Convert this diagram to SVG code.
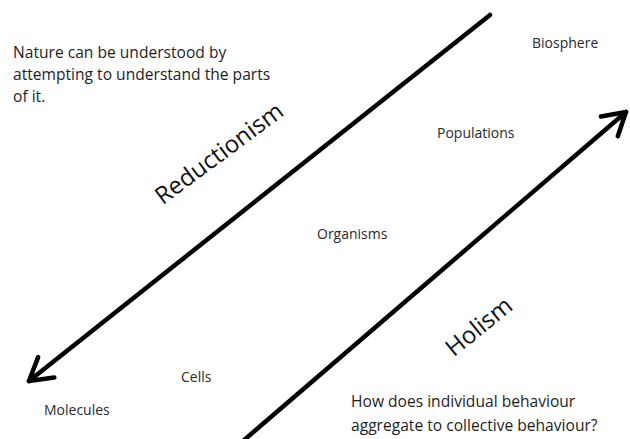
<svg xmlns="http://www.w3.org/2000/svg" width="630" height="439" viewBox="0 0 630 439">
<style>
.lbl{font-family:"Open Sans","Liberation Sans",sans-serif;font-size:14px;fill:#2a2a2a}
.txt{font-family:"Open Sans","Liberation Sans",sans-serif;font-size:15.6px;fill:#1e1e1e}
.big{font-family:"Open Sans","Liberation Sans",sans-serif;font-size:24px;fill:#111}
.arr{stroke:#000;stroke-width:4.5;fill:none;stroke-linecap:round}
</style>
<defs>
<marker id="head" markerUnits="userSpaceOnUse" orient="auto" markerWidth="60" markerHeight="60" refX="0" refY="0" viewBox="-30 -30 60 60" overflow="visible">
<path d="M-22,-13 L0,0 L-22,13" fill="none" stroke="#000" stroke-width="4.5" stroke-linecap="round" stroke-linejoin="round"/>
</marker>
</defs>
<rect width="630" height="439" fill="#fff"/>
<g id="connectors">
<line class="arr" x1="490" y1="15" x2="29" y2="381" marker-end="url(#head)"/>
<line class="arr" x1="243" y1="441" x2="626" y2="112" marker-end="url(#head)"/>
</g>
<g id="reductionism-note"><text class="txt" x="13" y="58">Nature can be understood by</text><text class="txt" x="13" y="80">attempting to understand the parts</text><text class="txt" x="13" y="102">of it.</text></g>
<g id="reductionism-label"><text class="big" text-anchor="middle" transform="translate(224,160) rotate(-36.5)">Reductionism</text></g>
<g id="holism-label"><text class="big" text-anchor="middle" transform="translate(484,333) rotate(-39)">Holism</text></g>
<g id="holism-note"><text class="txt" x="351" y="407">How does individual behaviour</text><text class="txt" x="351" y="431">aggregate to collective behaviour?</text></g>
<g id="biosphere"><text class="lbl" x="532" y="48">Biosphere</text></g>
<g id="populations"><text class="lbl" x="437" y="138">Populations</text></g>
<g id="organisms"><text class="lbl" x="317" y="239">Organisms</text></g>
<g id="cells"><text class="lbl" x="181" y="382">Cells</text></g>
<g id="molecules"><text class="lbl" x="44" y="415">Molecules</text></g>
</svg>
